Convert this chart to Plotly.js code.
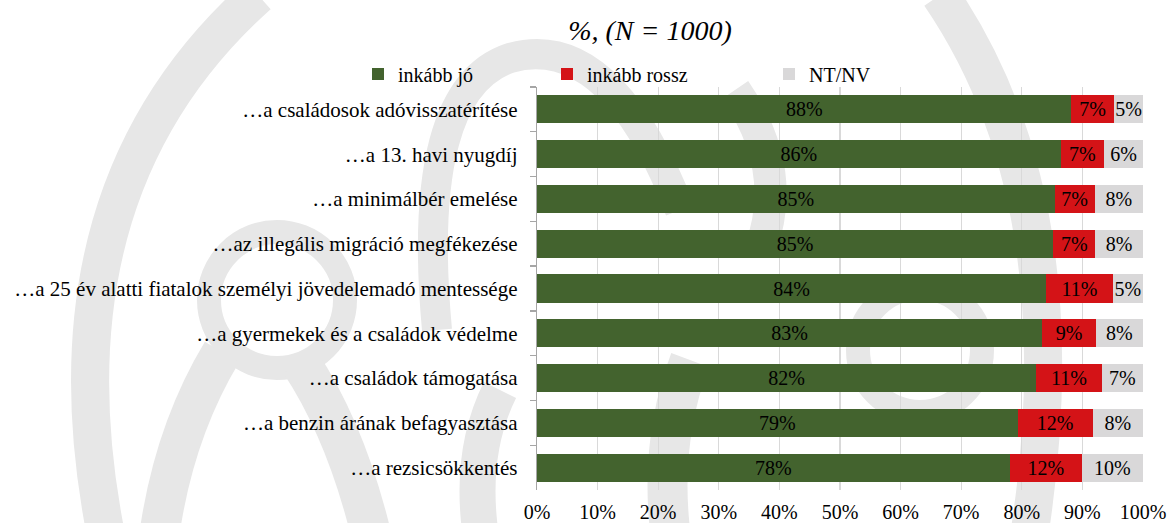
<!DOCTYPE html>
<html>
<head>
<meta charset="utf-8">
<script src="https://cdn.plot.ly/plotly-3.0.1.min.js"></script>
<style>
  html, body { margin: 0; padding: 0; background: #ffffff; }
  #wrap { position: relative; width: 1168px; height: 523px; overflow: hidden; }
  #bg { position: absolute; left: 0; top: 0; }
  #chart { position: absolute; left: 0; top: 0; width: 1168px; height: 523px; }
</style>
</head>
<body>
<div id="wrap">
<svg id="bg" width="1168" height="523" viewBox="0 0 1168 523">
  <g fill="none" stroke="#e7e7e7" stroke-linecap="butt">
    <path d="M 258 -5 Q 40 190 105 530" stroke-width="38"/>
    <circle cx="277" cy="300" r="68" stroke-width="24"/>
    <path d="M 222 352 Q 175 430 160 530" stroke-width="40"/>
    <path d="M 300 362 Q 345 430 370 530" stroke-width="40"/>
    <path d="M 437 330 Q 415 90 510 58 Q 610 30 680 210" stroke-width="30"/>
    <path d="M 500 390 Q 470 450 480 530" stroke-width="36"/>
    <path d="M 735 90 Q 790 170 760 250" stroke-width="32"/>
    <path d="M 690 360 Q 660 440 670 530" stroke-width="40"/>
    <circle cx="920" cy="350" r="62" stroke-width="24"/>
    <path d="M 940 -5 Q 1080 200 1030 530" stroke-width="38"/>
  </g>
</svg>
<div id="chart"></div>
</div>
<script>
const categories = [
  "…a családosok adóvisszatérítése",
  "…a 13. havi nyugdíj",
  "…a minimálbér emelése",
  "…az illegális migráció megfékezése",
  "…a 25 év alatti fiatalok személyi jövedelemadó mentessége",
  "…a gyermekek és a családok védelme",
  "…a családok támogatása",
  "…a benzin árának befagyasztása",
  "…a rezsicsökkentés"
];
const inkabbJo    = [88.2, 86.4, 85.4, 85.2, 84.0, 83.4, 82.4, 79.3, 78.0];
const inkabbRossz = [7.0, 7.2, 6.6, 6.9, 11.0, 8.8, 10.8, 12.4, 11.9];
const ntNv        = [4.8, 6.4, 8.0, 7.9, 5.0, 7.8, 6.8, 8.3, 10.1];
const seriesNames = ["inkább jó", "inkább rossz", "NT/NV"];
const xTickVals = [0, 10, 20, 30, 40, 50, 60, 70, 80, 90, 100];

const FONT = "Liberation Serif, Times New Roman, serif";

function barTrace(vals, name, color, legendId) {
  return {
    type: "bar",
    orientation: "h",
    y: categories,
    x: vals,
    name: name,
    legend: legendId,
    marker: { color: color, line: { width: 0 } },
    texttemplate: "%{x:.0f}%",
    textposition: "inside",
    insidetextanchor: "middle",
    constraintext: "none",
    textangle: 0,
    textfont: { family: FONT, size: 20, color: "#000000" },
    hoverinfo: "skip"
  };
}

const data = [
  barTrace(inkabbJo, seriesNames[0], "#43632e", "legend"),
  barTrace(inkabbRossz, seriesNames[1], "#d41317", "legend2"),
  barTrace(ntNv, seriesNames[2], "#d9d8d9", "legend3")
];

// plot area in pixels: x 537..1143, y 87..490
const PL = 537, PW = 606, PT = 87, PH = 403;
function legendAt(xpx, ypx) {
  return {
    orientation: "h",
    xref: "paper", yref: "paper",
    x: (xpx - PL) / PW, y: 1 + (PT - ypx) / PH,
    xanchor: "left", yanchor: "middle",
    font: { family: FONT, size: 20, color: "#000000" },
    bgcolor: "rgba(0,0,0,0)",
    itemwidth: 30,
    traceorder: "normal"
  };
}

const layout = {
  width: 1168,
  height: 523,
  paper_bgcolor: "rgba(0,0,0,0)",
  plot_bgcolor: "rgba(0,0,0,0)",
  margin: { l: PL, r: 1168 - PL - PW, t: PT, b: 523 - PT - PH, pad: 0 },
  barmode: "stack",
  bargap: 0.37,
  showlegend: true,
  title: {
    text: "<i>%, (N = 1000)</i>",
    font: { family: FONT, size: 28, color: "#000000" },
    xref: "container", yref: "container",
    x: 650 / 1168, xanchor: "center",
    y: 1 - 30 / 523, yanchor: "middle"
  },
  legend: legendAt(358, 74),
  legend2: legendAt(547, 74),
  legend3: legendAt(769, 74),
  uniformtext: { mode: "show", minsize: 20 },
  xaxis: {
    range: [0, 100],
    tickvals: xTickVals,
    ticktext: xTickVals.map(v => v + "%"),
    showgrid: true,
    gridcolor: "#d9d9d9",
    gridwidth: 1.3,
    zeroline: false,
    showline: false,
    ticks: "",
    ticklabelstandoff: 8,
    tickfont: { family: FONT, size: 20, color: "#000000" },
    fixedrange: true
  },
  yaxis: {
    type: "category",
    autorange: "reversed",
    showline: true,
    linecolor: "#a6a6a6",
    linewidth: 1.3,
    ticks: "outside",
    tickson: "boundaries",
    ticklen: 6,
    tickcolor: "#a6a6a6",
    tickwidth: 1.3,
    showgrid: false,
    ticklabelstandoff: 14,
    tickfont: { family: FONT, size: 21, color: "#000000" },
    fixedrange: true
  },
  font: { family: FONT, size: 20, color: "#000000" }
};

Plotly.newPlot("chart", data, layout, { displayModeBar: false, staticPlot: true });
</script>
</body>
</html>
